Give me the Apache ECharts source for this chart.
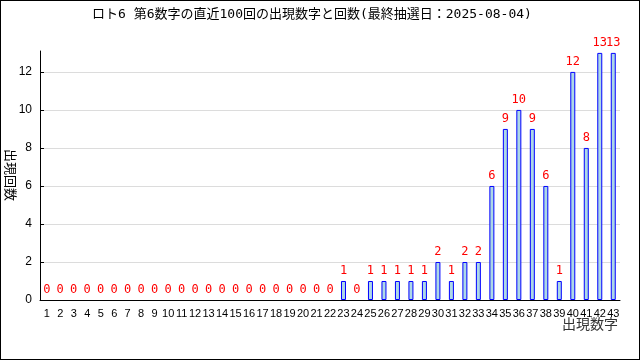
<!DOCTYPE html>
<html>
<head>
<meta charset="utf-8">
<script src="https://cdn.jsdelivr.net/npm/echarts@6/dist/echarts.min.js"></script>
<style>
html,body{margin:0;padding:0;background:#fff;}
#c{width:640px;height:360px;box-sizing:border-box;border:1px solid #000;}
</style>
</head>
<body>
<div id="c"></div>
<script>
const titleText = 'ロト6 第6数字の直近100回の出現数字と回数(最終抽選日：2025-08-04)';
const xName = '出現数字';
const yName = '出現回数';
const categories = ['1','2','3','4','5','6','7','8','9','10','11','12','13','14','15','16','17','18','19','20','21','22','23','24','25','26','27','28','29','30','31','32','33','34','35','36','37','38','39','40','41','42','43'];
const counts = [0,0,0,0,0,0,0,0,0,0,0,0,0,0,0,0,0,0,0,0,0,0,1,0,1,1,1,1,1,2,1,2,2,6,9,10,9,6,1,12,8,13,13];
const yTicks = [0,2,4,6,8,10,12];

const chart = echarts.init(document.getElementById('c'), null, {renderer:'canvas'});
chart.setOption({
  animation:false,
  backgroundColor:'#fff',
  title:{
    text:titleText, left:86, top:2,
    textStyle:{fontFamily:'DejaVu Sans Mono, Noto Sans CJK JP', fontSize:13, fontWeight:'normal', color:'#000'}
  },
  grid:{left:39, right:19, top:50, bottom:59, containLabel:false, outerBoundsMode:'none'},
  graphic:[
    {type:'text', right:21, top:316, style:{text:xName, font:'14px "Noto Sans CJK JP"', fill:'#333', letterSpacing:1}},
    {type:'text', left:3, top:148, rotation:-Math.PI/2, style:{text:yName, font:'13px "Noto Sans CJK JP"', fill:'#000'}}
  ],
  xAxis:{
    type:'category', data:categories,
    axisLine:{lineStyle:{color:'#000', width:1}},
    axisTick:{inside:true, length:4, lineStyle:{color:'#000'}},
    axisLabel:{interval:0, margin:8, fontFamily:'Liberation Sans', fontSize:11, color:'#000'},
    splitLine:{show:false}
  },
  yAxis:{
    type:'value', min:0, max:13.1, interval:2,
    axisLine:{show:true, lineStyle:{color:'#000', width:1}},
    axisTick:{show:true, inside:true, length:4, lineStyle:{color:'#000'}},
    axisLabel:{showMaxLabel:false, margin:8, fontFamily:'Liberation Sans', fontSize:12, color:'#000',
      formatter:function(v){return yTicks.indexOf(v)>=0 ? String(v) : '';}},
    splitLine:{show:true, showMaxLine:false, lineStyle:{color:'#dcdcdc', width:1}}
  },
  series:[{
    type:'bar', barWidth:5,
    data:counts.map(function(v){return v===0 ? {value:v, itemStyle:{borderWidth:0, color:'transparent'}} : v;}),
    itemStyle:{color:'#add8e6', borderColor:'#0000ff', borderWidth:1},
    label:{show:true, position:'top', distance:4, color:'#ff0000', fontFamily:'DejaVu Sans Mono', fontSize:12}
  }]
});
</script>
</body>
</html>
